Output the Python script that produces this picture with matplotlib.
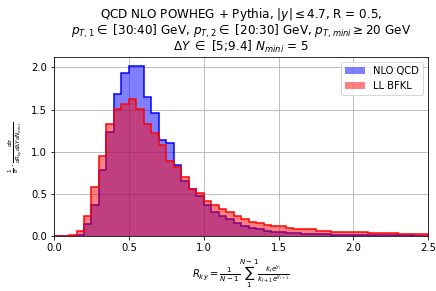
import numpy as np
import matplotlib
matplotlib.use("Agg")
import matplotlib.pyplot as plt

# bin edges of R_ky, width 0.05 from 0 to 2.5
bin_edges = np.linspace(0.0, 2.5, 51)

# normalised distributions
nlo_qcd = [0, 0, 0, 0.012, 0.14, 0.37, 0.78, 1.24, 1.68, 1.93,
           2.02, 2.02, 1.65, 1.46, 1.14, 1.11, 0.85, 0.66, 0.56, 0.48,
           0.37, 0.29, 0.24, 0.20, 0.156, 0.12, 0.095, 0.086, 0.066, 0.055,
           0.047, 0.04, 0.035, 0.03, 0.028, 0.025, 0.022, 0.02, 0.019, 0.018,
           0.016, 0.015, 0.014, 0.013, 0.012, 0.011, 0.01, 0.01, 0.009, 0.008]

ll_bfkl = [0, 0, 0.02, 0.065, 0.245, 0.58, 0.955, 1.33, 1.51, 1.57,
           1.63, 1.51, 1.33, 1.22, 1.08, 0.89, 0.82, 0.70, 0.56, 0.51,
           0.42, 0.375, 0.32, 0.285, 0.24, 0.2, 0.17, 0.155, 0.13, 0.117,
           0.117, 0.10, 0.09, 0.088, 0.085, 0.065, 0.06, 0.055, 0.05, 0.045,
           0.047, 0.045, 0.042, 0.04, 0.038, 0.035, 0.03, 0.03, 0.025, 0.028]

x_ticks = [0.0, 0.5, 1.0, 1.5, 2.0, 2.5]
y_ticks = [0.0, 0.5, 1.0, 1.5, 2.0]

dpi = 72
fig, ax = plt.subplots(figsize=(436 / dpi, 291 / dpi), dpi=dpi)
fig.subplots_adjust(left=0.124, right=0.982, top=0.803, bottom=0.188)

ax.grid(True)
ax.set_axisbelow(True)

# filled histograms with solid outlines
ax.stairs(nlo_qcd, bin_edges, fill=True, color="blue", alpha=0.5, label="NLO QCD")
ax.stairs(nlo_qcd, bin_edges, color="blue", linewidth=1.5)
ax.stairs(ll_bfkl, bin_edges, fill=True, color="red", alpha=0.5, label="LL BFKL")
ax.stairs(ll_bfkl, bin_edges, color="red", linewidth=1.5)

ax.set_xlim(0, 2.5)
ax.set_ylim(0, 2.12)
ax.set_xticks(x_ticks)
ax.set_yticks(y_ticks)

ax.set_title("QCD NLO POWHEG + Pythia, $|y| \\leq 4.7$, R = 0.5,\n"
             "$p_{T,1} \\in$ [30:40] GeV, $p_{T,2} \\in$ [20:30] GeV, $p_{T,mini} \\geq 20$ GeV\n"
             "$\\Delta Y$ $\\in$ [5;9.4] $N_{mini}$ = 5", linespacing=0.95)
ax.set_xlabel("$R_{ky} = \\frac{1}{N-1}\\sum_{1}^{N-1}\\frac{k_i e^{y_i}}{k_{i+1} e^{y_{i+1}}}$")
ax.set_ylabel("$\\frac{1}{\\sigma} \\cdot \\frac{d\\sigma}{dR_{ky}d\\Delta Y dN_{mini}}$",
              fontsize=8, labelpad=6)

ax.legend(loc="upper right")

fig.savefig("out.png", dpi=dpi)
